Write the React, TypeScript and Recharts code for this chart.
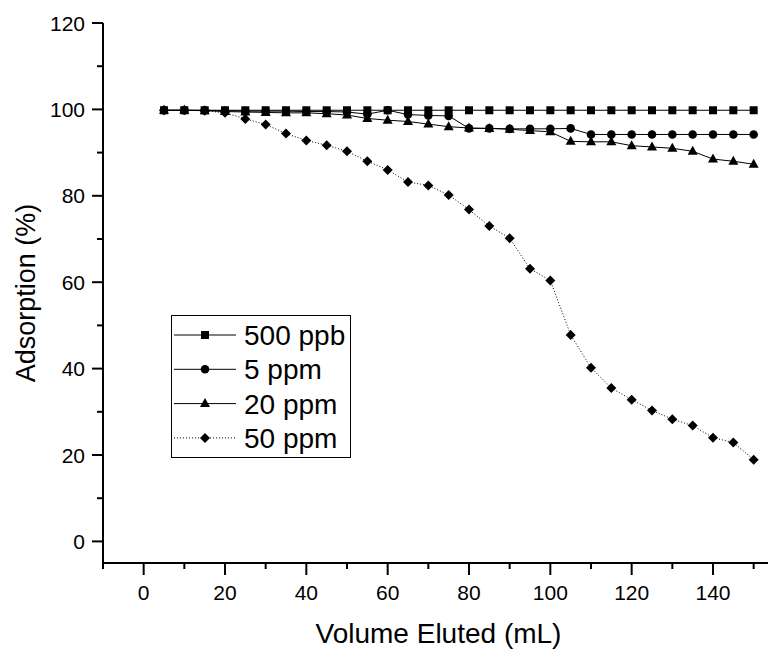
import { LineChart, Line, XAxis, YAxis, Legend } from 'recharts'

// ─── Data ─────────────────────────────────────────────────────────────────────

const volume = [5, 10, 15, 20, 25, 30, 35, 40, 45, 50, 55, 60, 65, 70, 75, 80, 85, 90, 95, 100, 105, 110, 115, 120, 125, 130, 135, 140, 145, 150]

const ppb500 = [99.8, 99.8, 99.8, 99.8, 99.8, 99.8, 99.8, 99.8, 99.8, 99.8, 99.8, 99.8, 99.8, 99.8, 99.8, 99.8, 99.8, 99.8, 99.8, 99.8, 99.8, 99.8, 99.8, 99.8, 99.8, 99.8, 99.8, 99.8, 99.8, 99.8]
const ppm5 = [99.8, 99.8, 99.8, 99.7, 99.6, 99.6, 99.6, 99.5, 99.5, 99.4, 98.9, 99.8, 98.8, 98.6, 98.5, 95.6, 95.6, 95.5, 95.5, 95.5, 95.6, 94.2, 94.2, 94.2, 94.2, 94.2, 94.2, 94.2, 94.2, 94.2]
const ppm20 = [99.8, 99.8, 99.7, 99.5, 99.4, 99.3, 99.2, 99.2, 99.0, 98.7, 97.9, 97.5, 97.2, 96.6, 96.0, 95.7, 95.6, 95.4, 95.1, 94.8, 92.6, 92.5, 92.5, 91.6, 91.3, 91.0, 90.3, 88.5, 88.0, 87.3]
const ppm50 = [99.8, 99.8, 99.7, 99.2, 97.8, 96.5, 94.4, 92.8, 91.7, 90.3, 88.0, 86.0, 83.2, 82.4, 80.2, 76.8, 73.0, 70.2, 63.1, 60.4, 47.8, 40.2, 35.5, 32.8, 30.3, 28.3, 26.8, 24.0, 22.9, 18.9]

const xTicks = [-10, 0, 10, 20, 30, 40, 50, 60, 70, 80, 90, 100, 110, 120, 130, 140, 150]
const yTicks = [0, 10, 20, 30, 40, 50, 60, 70, 80, 90, 100, 110, 120]

const data = volume.map((v, i) => ({
  volume: v,
  ppb500: ppb500[i],
  ppm5: ppm5[i],
  ppm20: ppm20[i],
  ppm50: ppm50[i],
}))

const FONT = '"Liberation Sans", Arial, sans-serif'

// ─── Markers ──────────────────────────────────────────────────────────────────

type Shape = 'square' | 'circle' | 'triangle' | 'diamond'

function Marker({ shape, cx, cy }: { shape: Shape; cx: number; cy: number }) {
  if (shape === 'square') return <rect x={cx - 4} y={cy - 4} width={8} height={8} fill="#000" />
  if (shape === 'circle') return <circle cx={cx} cy={cy} r={4.3} fill="#000" />
  if (shape === 'triangle')
    return <polygon points={`${cx},${cy - 5.5} ${cx + 5},${cy + 3.5} ${cx - 5},${cy + 3.5}`} fill="#000" />
  return <polygon points={`${cx},${cy - 5} ${cx + 5},${cy} ${cx},${cy + 5} ${cx - 5},${cy}`} fill="#000" />
}

const dotFor = (shape: Shape) => (props: any) => (
  <Marker key={`${shape}-${props.index}`} shape={shape} cx={props.cx} cy={props.cy} />
)

// ─── Ticks ────────────────────────────────────────────────────────────────────

function XTick({ x, y, payload }: any) {
  const v = payload.value
  const major = v >= 0 && v <= 140 && v % 20 === 0
  return (
    <g>
      <line x1={x} x2={x} y1={y} y2={y + (major ? 12 : 6)} stroke="#000" strokeWidth={2} />
      {major && (
        <text x={x} y={y + 37} textAnchor="middle" fontSize={21} fontFamily={FONT} fill="#000">
          {v}
        </text>
      )}
    </g>
  )
}

function YTick({ x, y, payload }: any) {
  const v = payload.value
  const major = v % 20 === 0
  return (
    <g>
      <line x1={x} x2={x - (major ? 11 : 6)} y1={y} y2={y} stroke="#000" strokeWidth={2} />
      {major && (
        <text x={x - 18} y={y + 7.5} textAnchor="end" fontSize={21} fontFamily={FONT} fill="#000">
          {v}
        </text>
      )}
    </g>
  )
}

// ─── Legend ───────────────────────────────────────────────────────────────────

const legendItems: { label: string; shape: Shape; dashed: boolean }[] = [
  { label: '500 ppb', shape: 'square', dashed: false },
  { label: '5 ppm', shape: 'circle', dashed: false },
  { label: '20 ppm', shape: 'triangle', dashed: false },
  { label: '50 ppm', shape: 'diamond', dashed: true },
]

function LegendBox() {
  return (
    <svg width={180} height={143} style={{ display: 'block' }}>
      <rect x={0.5} y={0.5} width={179} height={142} fill="#fff" stroke="#000" strokeWidth={1} />
      {legendItems.map((it, i) => {
        const cy = 20 + i * 34.3
        return (
          <g key={it.label}>
            <line x1={3} x2={65} y1={cy} y2={cy} stroke="#000" strokeWidth={1} strokeDasharray={it.dashed ? '1 2' : undefined} />
            <Marker shape={it.shape} cx={34} cy={cy} />
            <text x={73} y={cy + 10} fontSize={28} fontFamily={FONT} fill="#000">
              {it.label}
            </text>
          </g>
        )
      })}
    </svg>
  )
}

// ─── Axis titles ──────────────────────────────────────────────────────────────

function YTitle({ viewBox }: any) {
  const cy = viewBox.y + viewBox.height / 2
  return (
    <text x={35} y={cy} transform={`rotate(-90, 35, ${cy})`} textAnchor="middle" fontSize={27} fontFamily={FONT} fill="#000">
      Adsorption (%)
    </text>
  )
}

function XTitle({ viewBox }: any) {
  const cx = viewBox.x + viewBox.width / 2
  return (
    <text x={cx} y={643} textAnchor="middle" fontSize={28} fontFamily={FONT} fill="#000">
      Volume Eluted (mL)
    </text>
  )
}

// ─── Chart ────────────────────────────────────────────────────────────────────

export default function App() {
  return (
    <div style={{ position: 'absolute', left: 0, top: 0, width: 768, height: 650, overflow: 'hidden', background: '#fff' }}>
      <LineChart width={780} height={650} data={data} margin={{ top: 23, right: 6, bottom: 27, left: 43 }}>
        <XAxis
          dataKey="volume"
          type="number"
          domain={[-10, 155]}
          ticks={xTicks}
          interval={0}
          tickSize={0}
          tickMargin={0}
          tick={<XTick />}
          axisLine={{ stroke: '#000', strokeWidth: 2 }}
          height={60}
          label={<XTitle />}
        />
        <YAxis
          type="number"
          domain={[-5, 120]}
          ticks={yTicks}
          interval={0}
          tickSize={0}
          tickMargin={0}
          tick={<YTick />}
          axisLine={{ stroke: '#000', strokeWidth: 2 }}
          width={60}
          label={<YTitle />}
        />
        <Legend layout="vertical" align="center" verticalAlign="middle" content={() => <LegendBox />} wrapperStyle={{ left: 171, top: 315, width: 180, height: 143 }} />
        <Line dataKey="ppb500" stroke="#000" strokeWidth={1} dot={dotFor('square')} isAnimationActive={false} />
        <Line dataKey="ppm5" stroke="#000" strokeWidth={1} dot={dotFor('circle')} isAnimationActive={false} />
        <Line dataKey="ppm20" stroke="#000" strokeWidth={1} dot={dotFor('triangle')} isAnimationActive={false} />
        <Line dataKey="ppm50" stroke="#000" strokeWidth={1} strokeDasharray="1 2" dot={dotFor('diamond')} isAnimationActive={false} />
      </LineChart>
    </div>
  )
}
